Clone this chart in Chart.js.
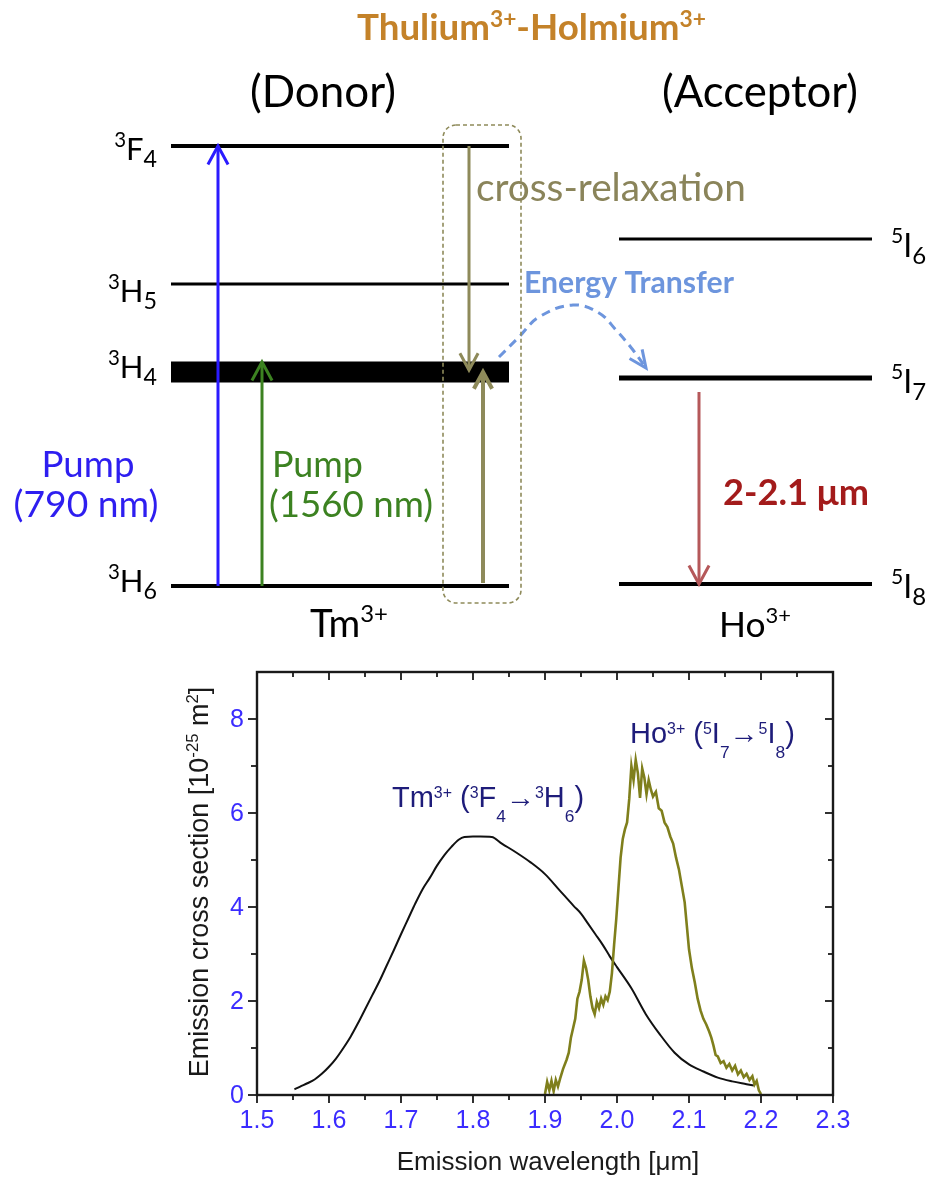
<!DOCTYPE html>
<html>
<head>
<meta charset="utf-8">
<script src="https://cdn.jsdelivr.net/npm/chart.js@4.4.1/dist/chart.umd.min.js"></script>
<style>
  body { margin: 0; background: #fff; }
  #wrap { position: relative; width: 933px; height: 1180px; }
  canvas { position: absolute; left: 0; }
  #diagram { top: 0; }
  #spectrum { top: 640px; }
</style>
</head>
<body>
<div id="wrap">
  <canvas id="diagram" width="933" height="640"></canvas>
  <canvas id="spectrum" width="933" height="540"></canvas>
</div>
<script>
// ---- energy level diagram (diagram units, 3H6 = 0) ----
const donorLevels = ['3F4', '3H5', '3H4', '3H6'];
const donorEnergy = [440, 302, 214, 0];
const acceptorLevels = ['5I6', '5I7', '5I8'];
const acceptorEnergy = [347, 208, 2];

// transitions: [from energy, to energy]
const pump790 = [0, 440];
const pump1560 = [0, 224];
const crossDown = [440, 216];
const crossUp = [3, 214];
const hoEmission = [194, 2];

// energy transfer path
const transferX = [499, 519, 539, 573, 599, 616, 633, 646];
const transferE = [229, 249, 269, 281, 273, 256, 236, 218];

// ---- emission spectrum ----
const tmWavelength = [1.552, 1.56, 1.57, 1.58, 1.59, 1.60, 1.61, 1.62, 1.63, 1.64, 1.65, 1.66, 1.67, 1.68, 1.69, 1.70,
  1.71, 1.72, 1.73, 1.74, 1.75, 1.76, 1.77, 1.78, 1.788, 1.80, 1.81, 1.826, 1.84, 1.86, 1.88, 1.90, 1.92, 1.94, 1.95,
  1.96, 1.97, 1.98, 1.99, 2.00, 2.02, 2.04, 2.06, 2.08, 2.10, 2.12, 2.14, 2.16, 2.18, 2.19];
const tmCross = [0.12, 0.18, 0.25, 0.33, 0.45, 0.60, 0.78, 1.00, 1.24, 1.52, 1.82, 2.12, 2.42, 2.75, 3.08, 3.42,
  3.75, 4.08, 4.38, 4.62, 4.88, 5.10, 5.28, 5.43, 5.49, 5.50, 5.50, 5.49, 5.35, 5.16, 4.95, 4.70, 4.36, 4.02, 3.86,
  3.64, 3.42, 3.20, 2.95, 2.72, 2.27, 1.72, 1.28, 0.90, 0.65, 0.50, 0.37, 0.29, 0.23, 0.20];

const hoWavelength = [1.900, 1.903, 1.906, 1.909, 1.912, 1.915, 1.918, 1.921, 1.925, 1.930, 1.933, 1.936, 1.939, 1.942,
  1.945, 1.948, 1.951, 1.954, 1.957, 1.960, 1.963, 1.966, 1.969, 1.972, 1.975, 1.978, 1.981, 1.984, 1.987, 1.990,
  1.993, 1.996, 1.999, 2.002, 2.005, 2.008, 2.011, 2.014, 2.017, 2.020, 2.023, 2.026, 2.029, 2.032, 2.035, 2.038,
  2.041, 2.044, 2.047, 2.050, 2.054, 2.058, 2.062, 2.066, 2.070, 2.074, 2.078, 2.082, 2.086, 2.090, 2.094, 2.097,
  2.100, 2.104, 2.108, 2.112, 2.116, 2.120, 2.124, 2.128, 2.131, 2.134, 2.137, 2.140, 2.144, 2.148, 2.152, 2.156,
  2.160, 2.164, 2.168, 2.172, 2.176, 2.180, 2.184, 2.188, 2.191, 2.194, 2.197, 2.200];
const hoCross = [0.02, 0.28, 0.10, 0.30, 0.08, 0.32, 0.18, 0.35, 0.55, 0.75, 0.90, 1.22, 1.42, 1.62,
  2.05, 2.20, 2.45, 2.86, 2.70, 2.45, 2.10, 1.85, 1.72, 1.98, 1.85, 2.05, 1.92, 2.10, 2.02, 2.20,
  2.60, 3.20, 3.75, 4.40, 5.05, 5.45, 5.65, 5.80, 6.30, 7.00, 6.70, 7.13, 6.85, 6.32, 6.95, 6.75,
  6.40, 6.70, 6.50, 6.35, 6.45, 6.10, 6.05, 5.80, 5.70, 5.50, 5.35, 5.05, 4.80, 4.45, 4.10, 3.60,
  3.10, 2.70, 2.40, 2.05, 1.80, 1.62, 1.50, 1.35, 1.22, 1.05, 0.85, 0.82, 0.68, 0.72, 0.58, 0.66,
  0.52, 0.62, 0.44, 0.52, 0.38, 0.45, 0.32, 0.40, 0.22, 0.30, 0.10, 0.02];

const xTicks = [1.5, 1.6, 1.7, 1.8, 1.9, 2.0, 2.1, 2.2, 2.3];
const xTickLabels = ['1.5', '1.6', '1.7', '1.8', '1.9', '2.0', '2.1', '2.2', '2.3'];
const xMinorTicks = [1.55, 1.65, 1.75, 1.85, 1.95, 2.05, 2.15, 2.25];
const yTicks = [0, 2, 4, 6, 8];
const yTickLabels = ['0', '2', '4', '6', '8'];
const yMinorTicks = [1, 3, 5, 7];

// ---------------------------------------------------------------
const DIA = 'Lato, "Open Sans", sans-serif';
const ARIAL = '"Liberation Sans", Arial, sans-serif';

// segments: [text, 0 normal | 1 superscript | -1 subscript]
function drawRich(ctx, segs, x, y, o) {
  const fam = o.family || ARIAL;
  const wt = o.weight || 'normal';
  const supS = o.supScale || 0.6, supO = o.supOff || 0.4;
  const subS = o.subScale || 0.6, subO = o.subOff || 0.2;
  const fontOf = (s, sz) => wt + ' ' + (s[1] === 0 ? sz : sz * (s[1] === 1 ? supS : subS)) + 'px ' + fam;
  const measure = (sz) => segs.reduce((w, s) => { ctx.font = fontOf(s, sz); return w + ctx.measureText(s[0]).width; }, 0);
  let size = o.size || 20;
  if (o.fit) size = size * o.fit / measure(size);
  const total = measure(size);
  let cx = o.align === 'center' ? x - total / 2 : o.align === 'right' ? x - total : x;
  ctx.fillStyle = o.color || '#000';
  ctx.textAlign = 'left';
  ctx.textBaseline = 'alphabetic';
  segs.forEach(s => {
    ctx.font = fontOf(s, size);
    const dy = s[1] === 1 ? -supO * size : s[1] === -1 ? subO * size : 0;
    ctx.fillText(s[0], cx, y + dy);
    cx += ctx.measureText(s[0]).width;
  });
}

const levelSegs = (name) => [[name[0], 1], [name[1], 0], [name.slice(2), -1]];

// arrow head as a chevron, in value space (equal scaling on both axes)
function head(tipX, tipY, fromX, fromY, len, spread) {
  const a = Math.atan2(fromY - tipY, fromX - tipX);
  return [
    { x: tipX + len * Math.cos(a + spread), y: tipY + len * Math.sin(a + spread) },
    { x: tipX, y: tipY },
    { x: tipX + len * Math.cos(a - spread), y: tipY + len * Math.sin(a - spread) }
  ];
}

function arrow(xPos, tr, color, width, len) {
  return [
    { data: [{ x: xPos, y: tr[0] }, { x: xPos, y: tr[1] }], borderColor: color, borderWidth: width, order: 1 },
    { data: head(xPos, tr[1], xPos, tr[0], len, 0.5), borderColor: color, borderWidth: width, order: 1 }
  ];
}

const donorSpan = [171, 509];
const acceptorSpan = [619, 872];
const levelThickness = { '3F4': 4, '3H5': 3, '3H4': 21, '3H6': 4, '5I6': 3, '5I7': 5, '5I8': 4 };

const diagramSets = [];
donorLevels.forEach((n, i) => diagramSets.push({
  data: [{ x: donorSpan[0], y: donorEnergy[i] }, { x: donorSpan[1], y: donorEnergy[i] }],
  borderColor: '#000', borderWidth: levelThickness[n], order: 3
}));
acceptorLevels.forEach((n, i) => diagramSets.push({
  data: [{ x: acceptorSpan[0], y: acceptorEnergy[i] }, { x: acceptorSpan[1], y: acceptorEnergy[i] }],
  borderColor: '#000', borderWidth: levelThickness[n], order: 3
}));
diagramSets.push(...arrow(218, pump790, '#2b1bff', 3, 21));
diagramSets.push(...arrow(262, pump1560, '#3c8221', 3, 21));
diagramSets.push(...arrow(469, crossDown, '#8e8a5a', 3, 19));
diagramSets.push(...arrow(483, crossUp, '#8e8a5a', 4, 19));
diagramSets.push(...arrow(699, hoEmission, '#b5585a', 3, 21));
diagramSets.push({
  data: transferX.map((v, i) => ({ x: v, y: transferE[i] })),
  borderColor: '#6d95dd', borderWidth: 3, borderDash: [9, 6], tension: 0.4, order: 1
});
const n = transferX.length;
diagramSets.push({
  data: head(transferX[n - 1], transferE[n - 1], transferX[n - 2], transferE[n - 2], 19, 0.42),
  borderColor: '#6d95dd', borderWidth: 3, order: 1
});

const diagramText = {
  id: 'diagramText',
  afterDatasetsDraw(chart) {
    const { ctx, scales: { x, y } } = chart;
    ctx.save();
    // dashed cross-relaxation box
    const bx0 = x.getPixelForValue(443), bx1 = x.getPixelForValue(521);
    const by0 = y.getPixelForValue(461), by1 = y.getPixelForValue(-17);
    ctx.strokeStyle = '#8e8a5a';
    ctx.lineWidth = 1.6;
    ctx.setLineDash([4, 3]);
    ctx.beginPath();
    ctx.roundRect(bx0, by0, bx1 - bx0, by1 - by0, 13);
    ctx.stroke();
    ctx.setLineDash([]);

    drawRich(ctx, [['Thulium', 0], ['3+', 1], ['-Holmium', 0], ['3+', 1]], 357, 40,
      { family: DIA, weight: 'bold', size: 30, fit: 349, color: '#c48229', supScale: 0.62, supOff: 0.36 });
    drawRich(ctx, [['(Donor)', 0]], 250, 107, { family: DIA, size: 36, fit: 146 });
    drawRich(ctx, [['(Acceptor)', 0]], 662, 107, { family: DIA, size: 36, fit: 196 });

    const lv = { family: DIA, size: 31, supScale: 0.66, supOff: 0.43, subScale: 0.75, subOff: 0.23, align: 'right' };
    const donorBase = [160, 302, 378, 592];
    donorLevels.forEach((nm, i) => drawRich(ctx, levelSegs(nm), 157, donorBase[i], lv));
    const accBase = [257, 393, 598];
    acceptorLevels.forEach((nm, i) => drawRich(ctx, levelSegs(nm), 891, accBase[i],
      Object.assign({}, lv, { align: 'left', size: 32 })));

    drawRich(ctx, [['Tm', 0], ['3+', 1]], 310, 637, { family: DIA, size: 32, fit: 78, supScale: 0.62, supOff: 0.4 });
    drawRich(ctx, [['Ho', 0], ['3+', 1]], 719, 637, { family: DIA, size: 32, fit: 72, supScale: 0.62, supOff: 0.4 });

    drawRich(ctx, [['cross-relaxation', 0]], 476, 201, { family: DIA, size: 36, fit: 270, color: '#8a845a' });
    drawRich(ctx, [['Energy Transfer', 0]], 524, 293, { family: DIA, weight: 'bold', size: 26, fit: 210, color: '#6d95dd' });

    drawRich(ctx, [['Pump', 0]], 88, 477, { family: DIA, size: 32, fit: 93, color: '#2e1ef0', align: 'center' });
    drawRich(ctx, [['(790 nm)', 0]], 86, 517, { family: DIA, size: 32, fit: 145, color: '#2e1ef0', align: 'center' });
    drawRich(ctx, [['Pump', 0]], 272, 477, { family: DIA, size: 32, fit: 91, color: '#3c8221' });
    drawRich(ctx, [['(1560 nm)', 0]], 269, 517, { family: DIA, size: 32, fit: 164, color: '#3c8221' });
    drawRich(ctx, [['2-2.1 ', 0], ['\u03bcm', 0]], 723, 505, { family: DIA, weight: 'bold', size: 30, fit: 146, color: '#a31b1b' });
    ctx.restore();
  }
};

new Chart(document.getElementById('diagram'), {
  type: 'line',
  data: { datasets: diagramSets.map(d => Object.assign({ pointRadius: 0, fill: false, borderCapStyle: 'butt' }, d)) },
  options: {
    responsive: false, animation: false,
    layout: { padding: 0 },
    scales: {
      x: { type: 'linear', min: 0, max: 933, display: false },
      y: { type: 'linear', min: -54, max: 586, display: false }
    },
    plugins: { legend: { display: false }, tooltip: { enabled: false } }
  },
  plugins: [diagramText]
});

// ---------------------------------------------------------------
const spectrumAxes = {
  id: 'spectrumAxes',
  afterDraw(chart) {
    const { ctx, chartArea: a, scales: { x, y } } = chart;
    ctx.save();
    ctx.strokeStyle = '#1a1a1a';
    ctx.lineWidth = 2.4;
    ctx.strokeRect(a.left, a.top, a.right - a.left, a.bottom - a.top);
    ctx.lineWidth = 1.8;
    const seg = (x0, y0, x1, y1) => { ctx.beginPath(); ctx.moveTo(x0, y0); ctx.lineTo(x1, y1); ctx.stroke(); };
    xTicks.forEach(v => { const p = x.getPixelForValue(v); seg(p, a.bottom, p, a.bottom + 8); seg(p, a.top, p, a.top + 8); });
    xMinorTicks.forEach(v => { const p = x.getPixelForValue(v); seg(p, a.bottom, p, a.bottom + 5); seg(p, a.top, p, a.top + 5); });
    yTicks.forEach(v => { const p = y.getPixelForValue(v); seg(a.left - 9, p, a.left, p); seg(a.right - 8, p, a.right, p); });
    yMinorTicks.forEach(v => { const p = y.getPixelForValue(v); seg(a.left - 6, p, a.left, p); seg(a.right - 5, p, a.right, p); });

    ctx.fillStyle = '#3b2cff';
    ctx.font = '25px ' + ARIAL;
    ctx.textAlign = 'center';
    ctx.textBaseline = 'middle';
    xTicks.forEach((v, i) => ctx.fillText(xTickLabels[i], x.getPixelForValue(v), a.bottom + 26));
    ctx.textAlign = 'right';
    yTicks.forEach((v, i) => ctx.fillText(yTickLabels[i], a.left - 13, y.getPixelForValue(v) + 1));

    drawRich(ctx, [['Emission wavelength [\u03bcm]', 0]], 548, a.bottom + 75, { size: 26, color: '#1a1a1a', align: 'center' });
    ctx.save();
    ctx.translate(199, 242);
    ctx.rotate(-Math.PI / 2);
    drawRich(ctx, [['Emission cross section [10', 0], ['-25', 1], [' m', 0], ['2', 1], [']', 0]], 0, 9,
      { size: 27, color: '#1a1a1a', align: 'center', supScale: 0.62, supOff: 0.38 });
    ctx.restore();

    const ann = { size: 29, color: '#1e1c7a', supScale: 0.55, supOff: 0.32, subScale: 0.6, subOff: 0.5 };
    drawRich(ctx, [['Tm', 0], ['3+', 1], [' (', 0], ['3', 1], ['F', 0], ['4', -1], ['\u2192', 0], ['3', 1], ['H', 0], ['6', -1], [')', 0]],
      392, 167, ann);
    drawRich(ctx, [['Ho', 0], ['3+', 1], [' (', 0], ['5', 1], ['I', 0], ['7', -1], ['\u2192', 0], ['5', 1], ['I', 0], ['8', -1], [')', 0]],
      630, 103, ann);
    ctx.restore();
  }
};

new Chart(document.getElementById('spectrum'), {
  type: 'line',
  data: {
    datasets: [
      {
        data: hoWavelength.map((v, i) => ({ x: v, y: hoCross[i] })),
        borderColor: '#7f7f1c', borderWidth: 2.6, pointRadius: 0, tension: 0
      },
      {
        data: tmWavelength.map((v, i) => ({ x: v, y: tmCross[i] })),
        borderColor: '#111', borderWidth: 2, pointRadius: 0, cubicInterpolationMode: 'monotone'
      }
    ]
  },
  options: {
    responsive: false, animation: false,
    layout: { padding: { left: 257, right: 100, top: 32, bottom: 85 } },
    scales: {
      x: { type: 'linear', min: 1.5, max: 2.3, display: false },
      y: { type: 'linear', min: 0, max: 9, display: false }
    },
    plugins: { legend: { display: false }, tooltip: { enabled: false } }
  },
  plugins: [spectrumAxes]
});
</script>
</body>
</html>
